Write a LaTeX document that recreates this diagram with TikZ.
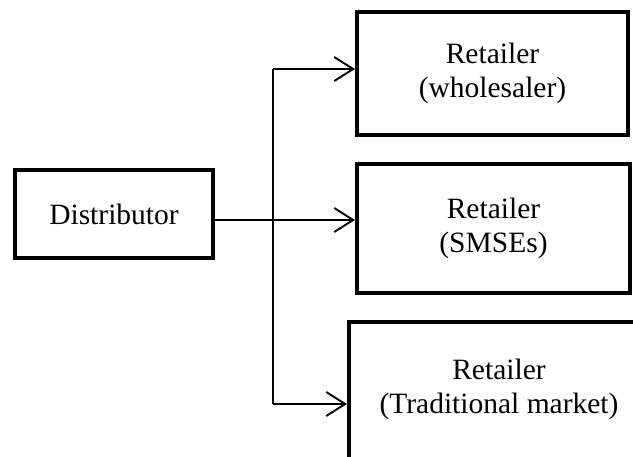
\documentclass[tikz,border=0pt]{standalone}
\usepackage{fontspec}
\setmainfont{Liberation Serif}
\usetikzlibrary{arrows.meta}
\tikzset{
  box/.style={draw=black, line width=4pt, fill=white, inner sep=0pt, align=center,
    font=\fontsize{29.5}{34}\selectfont},
  lbl/.style={inner sep=0pt, align=center, font=\fontsize{29.5}{34}\selectfont},
  conn/.style={line width=1.9pt, line cap=butt},
  arr/.style={conn, -{Straight Barb[length=19pt,width=24pt,line width=1.9pt]}}
}
\begin{document}
\begin{tikzpicture}[x=1pt,y=-1pt]
\clip (0,0) rectangle (633,456);
\fill[white] (0,0) rectangle (633,456);
\node[box, minimum width=198pt, minimum height=88pt] (dist) at (114,214) {Distributor};
\node[box, minimum width=271pt, minimum height=123pt] (b1) at (492.5,73.5) {Retailer\\(wholesaler)};
\node[box, minimum width=273pt, minimum height=129pt] (b2) at (493.5,228.5) {Retailer\\(SMSEs)};
\node[box, minimum width=306pt, minimum height=164pt, anchor=north west] (b3) at (347,320) {};
\node[lbl] (b3t) at (499,389) {Retailer\\(Traditional market)};
\coordinate (top) at (273,69);
\coordinate (bot) at (273,404);
\coordinate (mid) at (355,220);
\draw[conn] (top) -- (bot);
\draw[arr] (dist.east |- mid) -- (mid);
\draw[arr] (top) -- (top -| b1.west);
\draw[arr] (bot) -- (bot -| b3.west);
\end{tikzpicture}
\end{document}
